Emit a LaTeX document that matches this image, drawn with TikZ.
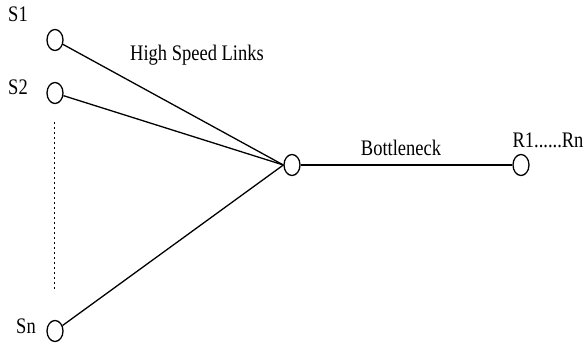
\documentclass[tikz,border=0pt]{standalone}
\usepackage{fontspec}
\setmainfont{Liberation Serif}
\usetikzlibrary{shapes.geometric}

\newcommand{\tall}[1]{\scalebox{1}[1.2]{#1}}

\begin{document}
\begin{tikzpicture}[x=1pt, y=-1pt,
    host/.style={draw, line width=1.3pt, ellipse, fill=white, inner sep=0pt,
        minimum width=16pt, minimum height=21pt},
    link/.style={line width=1.3pt},
    lbl/.style={font=\fontsize{18.5}{20}\selectfont, inner sep=0pt}]
    % --- Configuration ---
    \def\colX{55}      % x of the sender column
    \def\hubY{165}     % height of the bottleneck line

    \useasboundingbox (0,0) rectangle (587,347);

    % --- Senders ---
    \node[host] (s1) at (\colX, 40) {};
    \node[host] (s2) at (\colX, 93) {};
    \node[host] (sn) at (\colX, 331) {};

    % --- Router and receivers ---
    \node[host] (hub) at (292, \hubY) {};
    \node[host] (rcv) at (521, \hubY) {};

    % --- Links ---
    \draw[link] (s1) -- (hub.west);
    \draw[link] (s2) -- (hub.west);
    \draw[link] (sn) -- (hub.west);
    \draw[link] (hub) -- (rcv);

    % --- Dotted gap between S2 and Sn ---
    \coordinate (gapTop) at (\colX-1, 122);
    \coordinate (gapBot) at (\colX-1, 291);
    \draw[line width=1pt, dash pattern=on 2.5pt off 2.5pt] (gapTop) -- (gapBot);

    % --- Labels ---
    \node[lbl] (ls1) at (18, 14) {\tall{S1}};
    \node[lbl] (ls2) at (18, 87) {\tall{S2}};
    \node[lbl] (lsn) at (26, 326) {\tall{Sn}};
    \node[lbl] (lfast) at (197, 55) {\tall{High Speed Links}};
    \node[lbl] (lneck) at (401, 148) {\tall{Bottleneck}};
    \node[lbl] (lrcv) at (548, 140) {\tall{R1......Rn}};

\end{tikzpicture}
\end{document}
